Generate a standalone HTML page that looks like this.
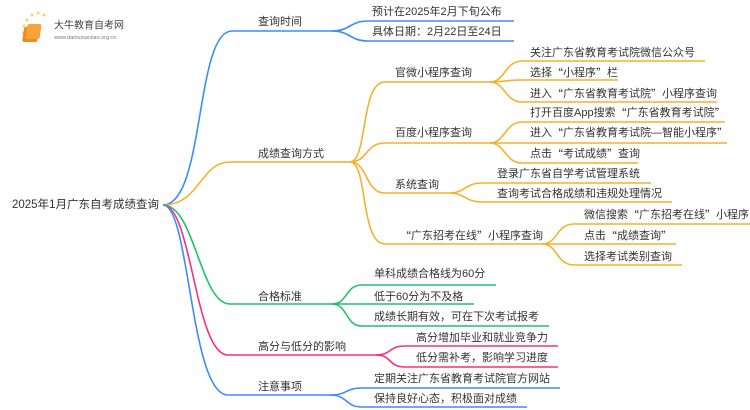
<!DOCTYPE html>
<html><head><meta charset="utf-8"><style>
html,body{margin:0;padding:0;background:#fff;}
svg{display:block;}
text{font-family:"Liberation Sans","Noto Sans CJK SC",sans-serif;font-size:11px;fill:#333;dominant-baseline:central;}
.q{font-family:"Noto Sans CJK SC",sans-serif;}
path{fill:none;stroke-width:1.6;}
.b{stroke:#3b8cff}.o{stroke:#f7b02b}.g{stroke:#21c26a}.p{stroke:#f5317f}
</style></head><body>
<svg width="750" height="410" viewBox="0 0 750 410" xmlns="http://www.w3.org/2000/svg">
<g>
<circle cx="24" cy="26" r="1.5" fill="#fbd26a"/><circle cx="27" cy="20" r="1.5" fill="#fbd26a"/><circle cx="32" cy="15" r="1.5" fill="#fbd26a"/><circle cx="38" cy="13" r="1.5" fill="#fbd26a"/><circle cx="44" cy="15" r="1.5" fill="#fbd26a"/><circle cx="23" cy="33" r="1.3" fill="#fbd26a"/><circle cx="24" cy="40" r="1.3" fill="#fbd26a"/>
<rect x="28" y="27" width="15" height="15" rx="2" fill="#f08a1c" transform="skewX(-8)"/>
<rect x="31" y="24" width="14" height="15" rx="2" fill="#f6a33a" transform="skewX(-8)"/>
<text x="54" y="26" style="font-size:10px;fill:#444">大牛教育自考网</text>
<text x="54" y="38" style="font-size:5.5px;fill:#777">www.daniuxuexiao.org.cn</text>
</g>
<text x="12" y="205" style="font-size:11.5px">2025年1月广东自考成绩查询</text>
<path class="b" d="M163 205 C205 205,195 31,232 31 L332 31"/>
<path class="o" d="M163 205 C200 205,200 162,230 162 L350 162"/>
<path class="g" d="M163 205 C195 205,200 304,230 304 L332 304"/>
<path class="p" d="M163 205 C192 205,195 355,228 355 L376 355"/>
<path class="b" d="M163 205 C190 205,190 395,228 395 L330 395"/>
<text x="258" y="22">查询时间</text>
<text x="258" y="154">成绩查询方式</text>
<text x="258" y="297">合格标准</text>
<text x="258" y="347">高分与低分的影响</text>
<text x="258" y="387">注意事项</text>
<path class="b" d="M332 31 C350 31,350 21,368 21 L514 21"/>
<path class="b" d="M332 31 C350 31,350 41,368 41 L514 41"/>
<text x="372" y="12">预计在2025年2月下旬公布</text>
<text x="372" y="32">具体日期：2月22日至24日</text>
<path class="o" d="M350 162 C368 162,360 82,385 82 L490 82"/>
<path class="o" d="M350 162 C368 162,365 143,385 143 L490 143"/>
<path class="o" d="M350 162 C368 162,365 193,385 193 L450 193"/>
<path class="o" d="M350 162 C368 162,360 244,385 244 L542 244"/>
<text x="395" y="73">官微小程序查询</text>
<text x="395" y="133">百度小程序查询</text>
<text x="395" y="185">系统查询</text>
<text x="400" y="236"><tspan class="q">“</tspan>广东招考在线<tspan class="q">”</tspan>小程序查询</text>
<path class="o" d="M490 82 C505 82,505 61,522 61 L705 61"/>
<path class="o" d="M490 82 C505 82,505 80,522 80 L618 80"/>
<path class="o" d="M490 82 C505 82,505 102,522 102 L717 102"/>
<text x="530" y="53">关注广东省教育考试院微信公众号</text>
<text x="530" y="73">选择<tspan class="q">“</tspan>小程序<tspan class="q">”</tspan>栏</text>
<text x="530" y="94">进入<tspan class="q">“</tspan>广东省教育考试院<tspan class="q">”</tspan>小程序查询</text>
<path class="o" d="M490 143 C505 143,505 122,522 122 L725 122"/>
<path class="o" d="M490 143 L727 143"/>
<path class="o" d="M490 143 C505 143,505 163,522 163 L638 163"/>
<text x="530" y="113">打开百度App搜索<tspan class="q">“</tspan>广东省教育考试院<tspan class="q">”</tspan></text>
<text x="530" y="133">进入<tspan class="q">“</tspan>广东省教育考试院—智能小程序<tspan class="q">”</tspan></text>
<text x="530" y="154">点击<tspan class="q">“</tspan>考试成绩<tspan class="q">”</tspan>查询</text>
<path class="o" d="M450 193 C465 193,465 183,482 183 L651 183"/>
<path class="o" d="M450 193 C465 193,465 202,482 202 L672 202"/>
<text x="497" y="174">登录广东省自学考试管理系统</text>
<text x="497" y="194">查询考试合格成绩和违规处理情况</text>
<path class="o" d="M542 244 C558 244,556 224,574 224 L750 224"/>
<path class="o" d="M542 244 L676 244"/>
<path class="o" d="M542 244 C558 244,556 265,574 265 L682 265"/>
<text x="584" y="215">微信搜索<tspan class="q">“</tspan>广东招考在线<tspan class="q">”</tspan>小程序</text>
<text x="584" y="236">点击<tspan class="q">“</tspan>成绩查询<tspan class="q">”</tspan></text>
<text x="584" y="257">选择考试类别查询</text>
<path class="g" d="M332 304 C348 304,345 285,362 285 L496 285"/>
<path class="g" d="M332 304 L474 304"/>
<path class="g" d="M332 304 C348 304,345 326,362 326 L549 326"/>
<text x="374" y="274">单科成绩合格线为60分</text>
<text x="374" y="297">低于60分为不及格</text>
<text x="374" y="317">成绩长期有效，可在下次考试报考</text>
<path class="p" d="M376 355 C392 355,388 346,405 346 L558 346"/>
<path class="p" d="M376 355 C392 355,388 367,405 367 L558 367"/>
<text x="416" y="338">高分增加毕业和就业竞争力</text>
<text x="416" y="358">低分需补考，影响学习进度</text>
<path class="b" d="M330 395 C348 395,345 388,362 388 L560 388"/>
<path class="b" d="M330 395 C348 395,345 407,362 407 L527 407"/>
<text x="374" y="379">定期关注广东省教育考试院官方网站</text>
<text x="374" y="399">保持良好心态，积极面对成绩</text>
</svg>
</body></html>
